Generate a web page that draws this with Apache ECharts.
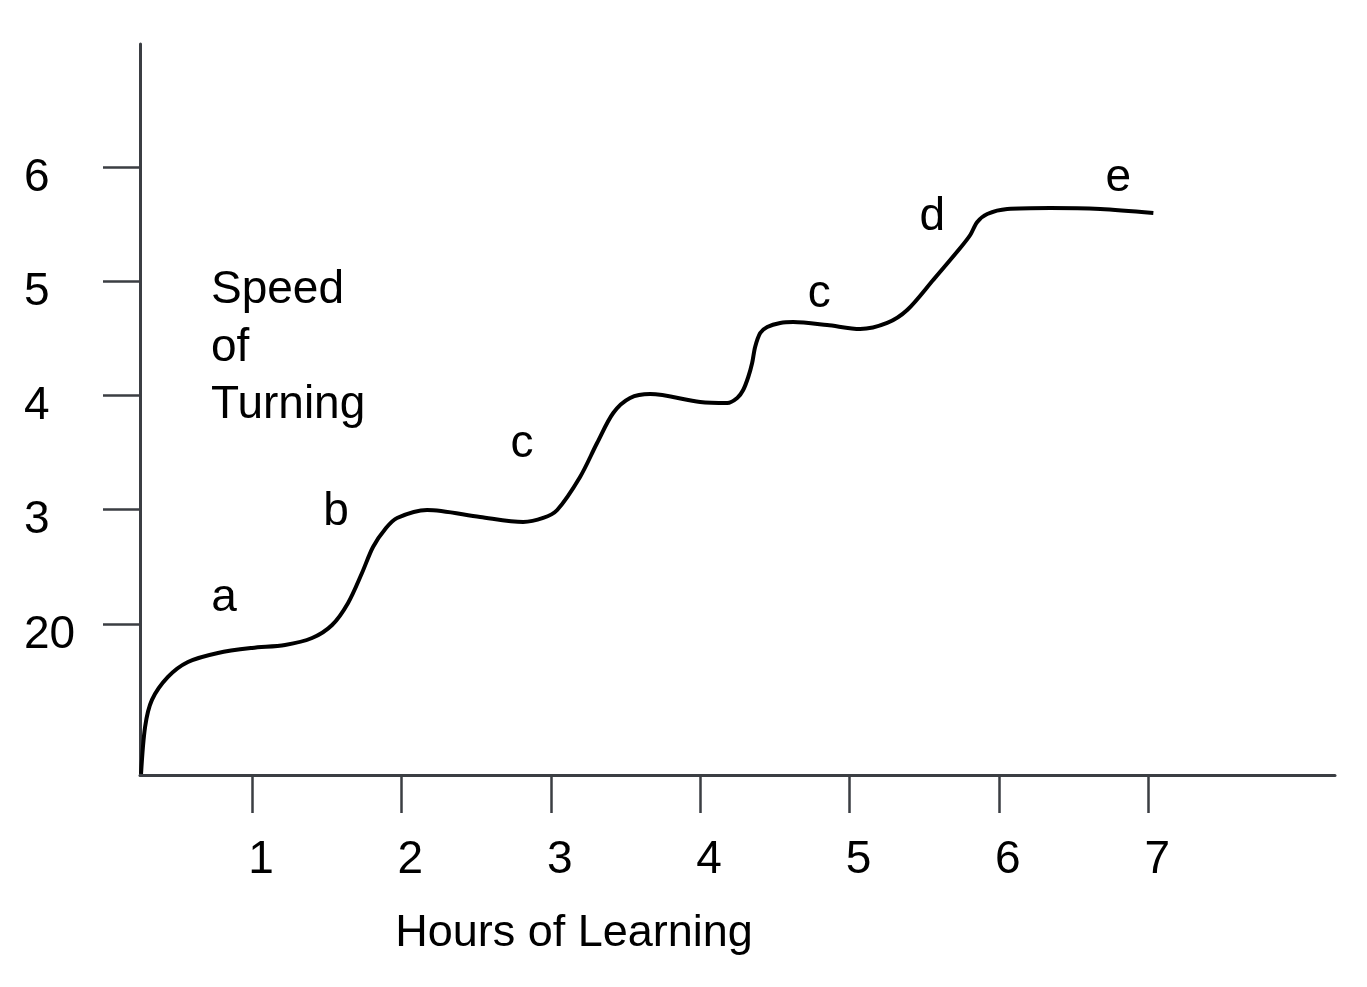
<!DOCTYPE html>
<html>
<head>
<meta charset="utf-8">
<script src="https://cdn.jsdelivr.net/npm/echarts@6/dist/echarts.min.js"></script>
<style>
html,body{margin:0;padding:0;background:#fff;}
#chart{width:1367px;height:987px;}
</style>
</head>
<body>
<div id="chart"></div>
<script>
// ---- data ----
const xTickValues = [1, 2, 3, 4, 5, 6, 7];
const xTickLabels = ['1', '2', '3', '4', '5', '6', '7'];
const yTickValues = [2, 3, 4, 5, 6];
const yTickLabels = ['20', '3', '4', '5', '6'];

const hours = [0.257, 0.284, 0.330, 0.437, 0.571, 0.772, 1.000, 1.221, 1.402, 1.536,
  1.643, 1.736, 1.810, 1.897, 1.971, 2.172, 2.527, 2.815, 2.949, 3.043,
  3.196, 3.310, 3.418, 3.531, 3.666, 4.000, 4.181, 4.248, 4.288, 4.322,
  4.348, 4.368, 4.402, 4.449, 4.536, 4.623, 4.850, 5.071, 5.252, 5.386,
  5.560, 5.741, 5.808, 5.855, 5.922, 6.056, 6.344, 6.679, 7.034];
const speed = [0.687, 1.098, 1.335, 1.536, 1.667, 1.746, 1.790, 1.816, 1.877, 1.991,
  2.184, 2.446, 2.674, 2.840, 2.928, 2.998, 2.937, 2.893, 2.928, 2.998,
  3.287, 3.584, 3.847, 3.978, 4.013, 3.943, 3.934, 3.978, 4.048, 4.162,
  4.284, 4.425, 4.547, 4.600, 4.635, 4.643, 4.617, 4.582, 4.635, 4.748,
  5.011, 5.291, 5.405, 5.519, 5.589, 5.632, 5.641, 5.632, 5.597];

const noteText = ['a', 'b', 'c', 'c', 'd', 'e'];
const noteX = [0.8125, 1.5625, 2.808, 4.797, 5.554, 6.799];
const noteY = [2.271, 3.024, 3.619, 4.932, 5.606, 5.947];

const yTitleText = 'Speed\nof\nTurning';
const yTitleX = 0.7254;
const yTitleY = 4.442;

const xTitleText = 'Hours of Learning';

// ---- chart ----
const FONT = '"Liberation Sans", Arial, Helvetica, sans-serif';
const AXIS_COLOR = '#3b3e43';

const lineData = hours.map((h, i) => [h, speed[i]]);
const noteData = noteText.map((t, i) => ({ value: [noteX[i], noteY[i]], name: t }));
noteData.push({
  value: [yTitleX, yTitleY],
  name: yTitleText,
  label: { align: 'left', lineHeight: 57.5, offset: [0, 3] }
});

const chart = echarts.init(document.getElementById('chart'), null, { renderer: 'canvas' });
chart.setOption({
  animation: false,
  backgroundColor: '#ffffff',
  grid: { left: 140, right: 32, top: 44, bottom: 212, containLabel: false },
  xAxis: {
    type: 'value',
    min: 0.25,
    max: 8.25,
    name: xTitleText,
    nameLocation: 'middle',
    nameGap: 159,
    nameTextStyle: {
      fontFamily: FONT, fontSize: 45, color: '#000',
      verticalAlign: 'middle', padding: [0, 327, 0, 0]
    },
    axisLine: { show: true, onZero: false, lineStyle: { color: AXIS_COLOR, width: 3 } },
    axisTick: { show: true, inside: false, length: 38, customValues: xTickValues,
      lineStyle: { color: AXIS_COLOR, width: 2.5 } },
    axisLabel: {
      show: true, customValues: xTickValues, margin: 62,
      fontFamily: FONT, fontSize: 46, color: '#000',
      padding: [0, 0, 0, 18],
      formatter: v => xTickLabels[xTickValues.indexOf(v)]
    },
    splitLine: { show: false }
  },
  yAxis: {
    type: 'value',
    min: 0.678,
    max: 7.077,
    axisLine: { show: true, onZero: false, lineStyle: { color: AXIS_COLOR, width: 3 } },
    axisTick: { show: true, inside: false, length: 37, customValues: yTickValues,
      lineStyle: { color: AXIS_COLOR, width: 2.5 } },
    axisLabel: {
      show: true, customValues: yTickValues, margin: 116, align: 'left',
      verticalAlign: 'top', lineHeight: 22,
      fontFamily: FONT, fontSize: 46, color: '#000',
      formatter: v => yTickLabels[yTickValues.indexOf(v)]
    },
    splitLine: { show: false }
  },
  series: [
    {
      type: 'line',
      data: lineData,
      smooth: 0.3,
      showSymbol: false,
      symbol: 'none',
      lineStyle: { color: '#000', width: 4 },
      z: 3
    },
    {
      type: 'scatter',
      data: noteData,
      symbolSize: 0,
      silent: true,
      itemStyle: { opacity: 1 },
      label: {
        show: true,
        position: 'inside',
        formatter: p => p.name,
        fontFamily: FONT, fontSize: 46, color: '#000', opacity: 1,
        align: 'center', verticalAlign: 'middle',
        offset: [0, 5]
      },
      z: 4
    }
  ]
});
</script>
</body>
</html>
